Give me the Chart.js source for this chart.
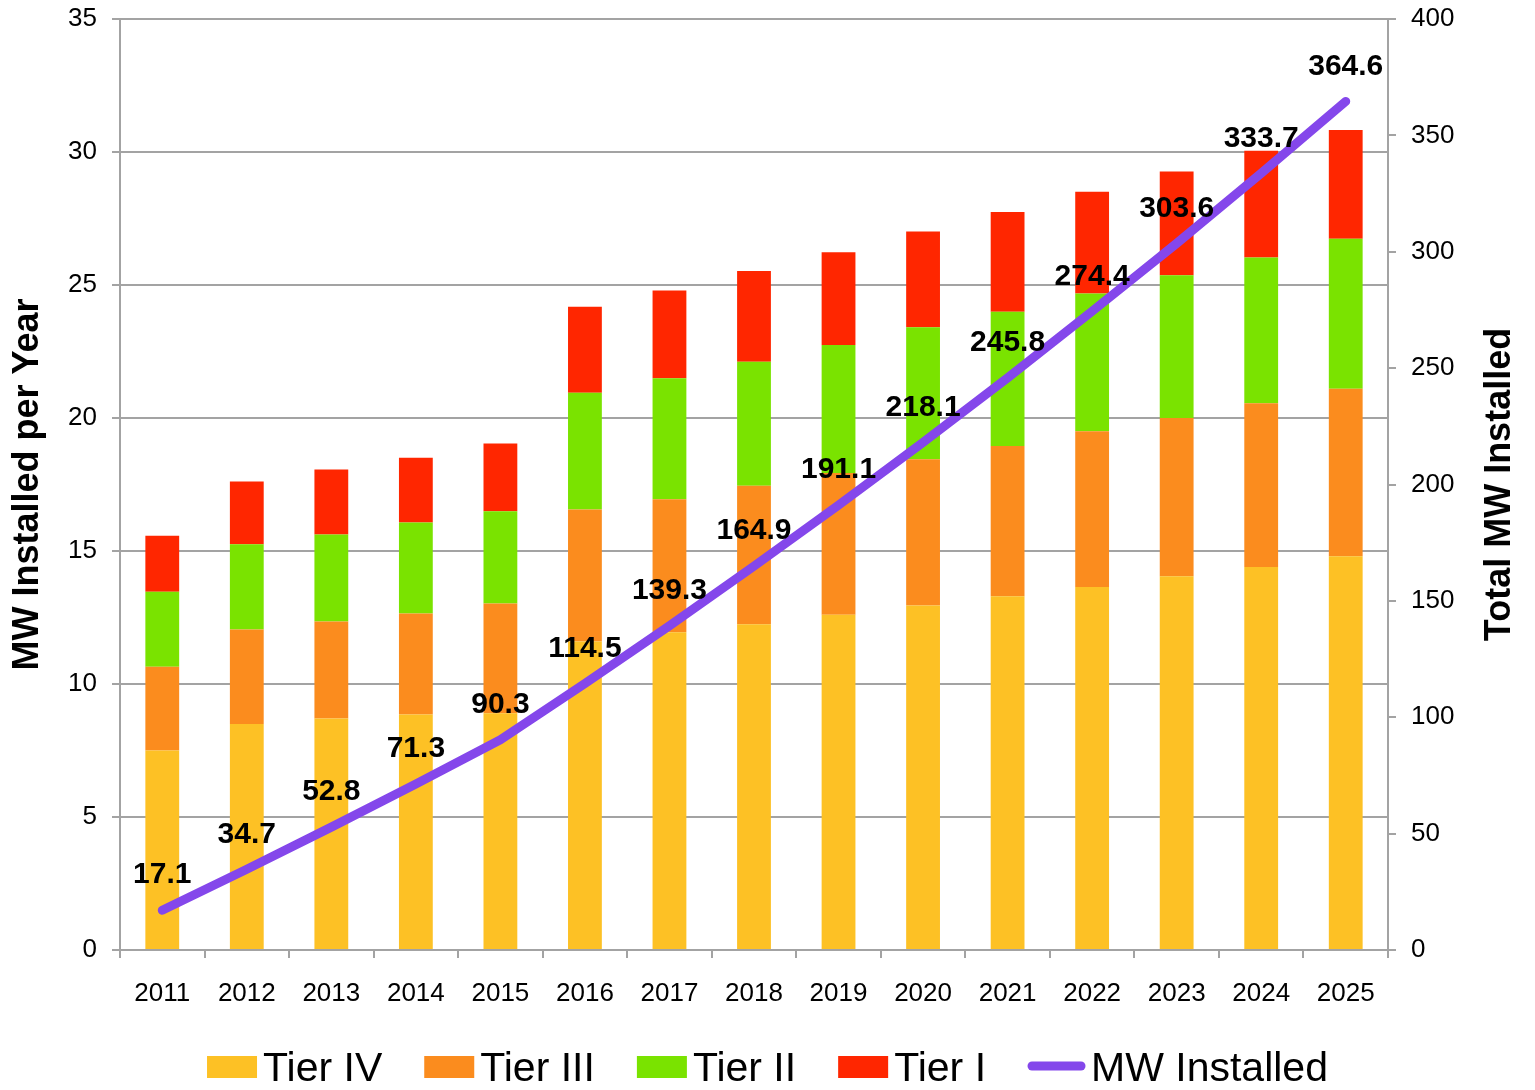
<!DOCTYPE html>
<html>
<head>
<meta charset="utf-8">
<script src="https://cdn.jsdelivr.net/npm/chart.js@4.4.1/dist/chart.umd.min.js"></script>
<style>
  html, body { margin: 0; padding: 0; background: #fff; }
  #wrap { width: 1535px; height: 1090px; }
</style>
</head>
<body>
<div id="wrap"><canvas id="mwChart" width="1535" height="1090"></canvas></div>
<script>
/* chart data */
const years = ['2011', '2012', '2013', '2014', '2015', '2016', '2017', '2018', '2019', '2020', '2021', '2022', '2023', '2024', '2025'];
const tierIV = [7.5, 8.5, 8.7, 8.85, 8.9, 11.6, 11.95, 12.25, 12.6, 12.95, 13.3, 13.65, 14.05, 14.4, 14.8];
const tierIII = [3.15, 3.55, 3.65, 3.8, 4.13, 4.96, 5.0, 5.2, 5.33, 5.5, 5.65, 5.85, 5.95, 6.15, 6.3];
const tierII = [2.82, 3.2, 3.27, 3.42, 3.46, 4.39, 4.54, 4.66, 4.81, 4.96, 5.04, 5.18, 5.37, 5.48, 5.64];
const tierI = [2.1, 2.36, 2.44, 2.44, 2.55, 3.23, 3.3, 3.42, 3.49, 3.6, 3.75, 3.83, 3.9, 4.02, 4.09];
const mwInstalled = [17.1, 34.7, 52.8, 71.3, 90.3, 114.5, 139.3, 164.9, 191.1, 218.1, 245.8, 274.4, 303.6, 333.7, 364.6];

const FONT = '"Liberation Sans", Arial, Helvetica, sans-serif';
const GRID = '#a3a3a3';

/* Data labels above the line */
const lineLabels = {
  id: 'lineLabels',
  afterDatasetsDraw(chart) {
    const ctx = chart.ctx;
    const meta = chart.getDatasetMeta(4);
    ctx.save();
    ctx.font = 'bold 30px ' + FONT;
    ctx.fillStyle = '#000';
    ctx.textAlign = 'center';
    ctx.textBaseline = 'middle';
    meta.data.forEach((pt, i) => {
      ctx.fillText(mwInstalled[i].toFixed(1), pt.x, pt.y - 35);
    });
    ctx.restore();
  }
};

/* Axis titles, both read bottom to top */
const axisTitles = {
  id: 'axisTitles',
  afterDraw(chart) {
    const ctx = chart.ctx;
    const a = chart.chartArea;
    const midY = (a.top + a.bottom) / 2;
    ctx.save();
    ctx.font = 'bold 36px ' + FONT;
    ctx.fillStyle = '#000';
    ctx.textAlign = 'center';
    ctx.textBaseline = 'middle';
    [[28, 'MW Installed per Year'], [1500, 'Total MW Installed']].forEach(([x, t]) => {
      ctx.save();
      ctx.translate(x, midY);
      ctx.rotate(-Math.PI / 2);
      ctx.fillText(t, 0, 0);
      ctx.restore();
    });
    ctx.restore();
  }
};

/* Legend at the bottom */
const bottomLegend = {
  id: 'bottomLegend',
  afterDraw(chart) {
    const ctx = chart.ctx;
    const items = chart.data.datasets;
    ctx.save();
    ctx.font = '41px ' + FONT;
    ctx.textBaseline = 'middle';
    ctx.textAlign = 'left';
    const y = 1067;
    const gap = 6, spacing = 42;
    const widths = items.map(ds => {
      const sym = ds.type === 'line' ? 57 : 50;
      return sym + gap + ctx.measureText(ds.label).width;
    });
    const total = widths.reduce((s, w) => s + w, 0) + spacing * (items.length - 1);
    let x = (chart.width - total) / 2;
    items.forEach((ds, i) => {
      if (ds.type === 'line') {
        ctx.strokeStyle = ds.borderColor;
        ctx.lineWidth = 9;
        ctx.lineCap = 'round';
        ctx.beginPath();
        ctx.moveTo(x + 4, y - 1);
        ctx.lineTo(x + 53, y - 1);
        ctx.stroke();
        x += 57 + gap;
      } else {
        ctx.fillStyle = ds.backgroundColor;
        ctx.fillRect(x, y - 11, 50, 22);
        x += 50 + gap;
      }
      ctx.fillStyle = '#000';
      ctx.fillText(ds.label, x, y + 3);
      x += ctx.measureText(ds.label).width + spacing;
    });
    ctx.restore();
  }
};

const ctx = document.getElementById('mwChart').getContext('2d');

new Chart(ctx, {
  data: {
    labels: years,
    datasets: [
      { type: 'bar', label: 'Tier IV', data: tierIV, backgroundColor: '#fdc125', yAxisID: 'y', order: 1 },
      { type: 'bar', label: 'Tier III', data: tierIII, backgroundColor: '#fb8c1e', yAxisID: 'y', order: 1 },
      { type: 'bar', label: 'Tier II', data: tierII, backgroundColor: '#7ae300', yAxisID: 'y', order: 1 },
      { type: 'bar', label: 'Tier I', data: tierI, backgroundColor: '#ff2600', yAxisID: 'y', order: 1 },
      {
        type: 'line', label: 'MW Installed', data: mwInstalled, yAxisID: 'y1', order: 0,
        borderColor: '#8447eb', borderWidth: 9, borderCapStyle: 'round', borderJoinStyle: 'round',
        pointRadius: 0, tension: 0, fill: false
      }
    ]
  },
  options: {
    responsive: false,
    animation: false,
    devicePixelRatio: 1,
    layout: { padding: { top: 19, bottom: 50, left: 0, right: 0 } },
    datasets: { bar: { categoryPercentage: 1, barPercentage: 0.4 } },
    plugins: {
      legend: { display: false },
      tooltip: { enabled: false }
    },
    scales: {
      x: {
        stacked: true,
        grid: { display: true, drawOnChartArea: false, offset: true, color: GRID, tickLength: 8, lineWidth: 2 },
        border: { color: GRID, width: 2 },
        ticks: { color: '#000', font: { family: FONT, size: 26 }, padding: 20, maxRotation: 0 },
        afterFit(scale) { scale.height = 90; scale.paddingLeft = 0; scale.paddingRight = 0; }
      },
      y: {
        position: 'left',
        stacked: true,
        min: 0, max: 35,
        grid: { color: GRID, tickLength: 8, lineWidth: 2 },
        border: { color: GRID, width: 2 },
        ticks: { stepSize: 5, color: '#000', font: { family: FONT, size: 26 }, padding: 15 },
        afterFit(scale) { scale.width = 120; scale.paddingTop = 0; scale.paddingBottom = 0; }
      },
      y1: {
        position: 'right',
        min: 0, max: 400,
        grid: { drawOnChartArea: false, color: GRID, tickLength: 8, lineWidth: 2 },
        border: { color: GRID, width: 2 },
        ticks: { stepSize: 50, color: '#000', font: { family: FONT, size: 26 }, padding: 15 },
        afterFit(scale) { scale.width = 147; scale.paddingTop = 0; scale.paddingBottom = 0; }
      }
    }
  },
  plugins: [lineLabels, axisTitles, bottomLegend]
});
</script>
</body>
</html>
